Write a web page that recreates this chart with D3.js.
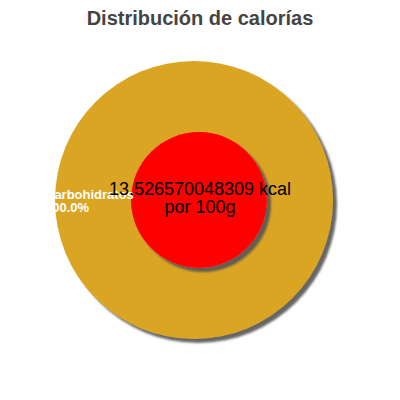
<!DOCTYPE html>
<html><head><meta charset="utf-8">
<script src="https://cdn.jsdelivr.net/npm/d3@7"></script>
<style>html,body{margin:0;padding:0;background:#fff;}svg{display:block;}</style>
</head><body>
<svg id="c" width="400" height="400"></svg>
<script>
const categories = ["Carbohidratos"];
const values = [13.526570048309];
const colors = ["#DAA520"];
const title = "Distribución de calorías";
const totalLabel = "13.526570048309 kcal";
const unitLabel = "por 100g";

const svg = d3.select("#c");
const defs = svg.append("defs");
const f = defs.append("filter").attr("id","sh").attr("x","-20%").attr("y","-20%").attr("width","140%").attr("height","140%");
f.append("feDropShadow").attr("dx",4).attr("dy",4).attr("stdDeviation",1).attr("flood-color","#555").attr("flood-opacity",0.9);

svg.append("text").attr("x",200).attr("y",25).attr("text-anchor","middle")
  .attr("font-family","Liberation Sans, Arial, sans-serif").attr("font-weight","bold")
  .attr("font-size",20).attr("fill","#444").text(title);

const total = d3.sum(values);
const pie = d3.pie().sort(null)(values);
const arc = d3.arc().innerRadius(0).outerRadius(139);
const g = svg.append("g").attr("transform","translate(194,200)");
g.selectAll("path").data(pie).join("path").attr("d",arc)
  .attr("fill",(d,i)=>colors[i]).attr("filter","url(#sh)");

svg.append("circle").attr("cx",199).attr("cy",200).attr("r",68)
  .attr("fill","red").attr("filter","url(#sh)");

const lab = svg.append("text").attr("font-family","Liberation Sans, Arial, sans-serif")
  .attr("font-weight","bold").attr("font-size",13).attr("fill","#fff");
categories.forEach((c,i)=>{
  lab.append("tspan").attr("x",45).attr("y",199).text(c);
  lab.append("tspan").attr("x",45).attr("y",212).text((values[i]/total*100).toFixed(1)+"%");
});

const ct = svg.append("text").attr("text-anchor","middle")
  .attr("font-family","Liberation Sans, Arial, sans-serif").attr("font-size",18).attr("fill","#000");
ct.append("tspan").attr("x",200).attr("y",195).text(totalLabel);
ct.append("tspan").attr("x",200).attr("y",213).text(unitLabel);
</script>
</body></html>
